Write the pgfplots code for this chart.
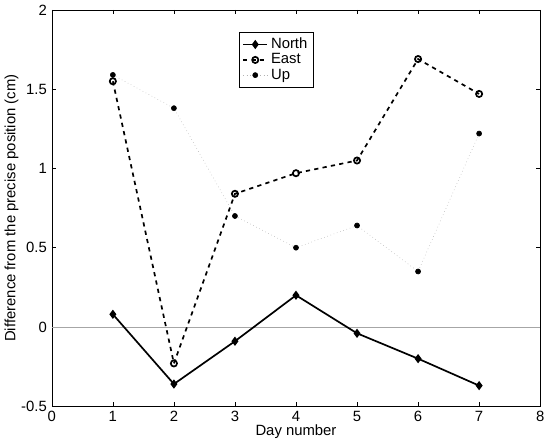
\documentclass[border=0pt]{standalone}
\usepackage{pgfplots}
\pgfplotsset{compat=1.18}
\usepackage{fontspec}
\setmainfont{Liberation Sans}
\begin{document}
\begin{tikzpicture}
\begin{axis}[
  scale only axis,
  width=345pt, height=280pt,
  xmin=0, xmax=8, ymin=-0.5, ymax=2,
  xtick={0,1,...,8},
  ytick={-0.5,0,0.5,1,1.5,2},
  yticklabels={-0.5,0,0.5,1,1.5,2},
  xticklabels={0,1,2,3,4,5,6,7,8},
  tick align=inside,
  major tick length=3pt,
  tick style={black, thin},
  axis line style={black, thin},
  ticklabel style={font=\fontsize{10.5}{12}\selectfont},
  label style={font=\fontsize{10.5}{12}\selectfont},
  xlabel={Day number},
  ylabel={Difference from the precise position (cm)},
  xlabel style={yshift=5pt},
  ylabel style={yshift=-5pt},
  legend style={at={(axis cs:3.07,1.86)}, anchor=north west, draw=black, thin,
    font=\fontsize{10.5}{12}\selectfont, row sep=-2pt, inner sep=2pt},
  legend cell align=left,
]
\addplot[gray!70, thin, forget plot] coordinates {(0,0) (8,0)};
\addplot[black, line width=1.2pt, mark=diamond*, mark size=2.3pt, mark options={solid}]
  coordinates {(1,0.08) (2,-0.36) (3,-0.09) (4,0.20) (5,-0.04) (6,-0.20) (7,-0.37)};
\addlegendentry{North}
\addplot[black, line width=1.2pt, dashed, mark=o, mark size=2.2pt, mark options={solid, fill=white}]
  coordinates {(1,1.55) (2,-0.23) (3,0.84) (4,0.97) (5,1.05) (6,1.69) (7,1.47)};
\addlegendentry{East}
\addplot[gray!60, thin, dotted, mark=*, mark size=1.8pt, mark options={solid, black}]
  coordinates {(1,1.59) (2,1.38) (3,0.70) (4,0.50) (5,0.64) (6,0.35) (7,1.22)};
\addlegendentry{Up}
\end{axis}
\end{tikzpicture}
\end{document}
